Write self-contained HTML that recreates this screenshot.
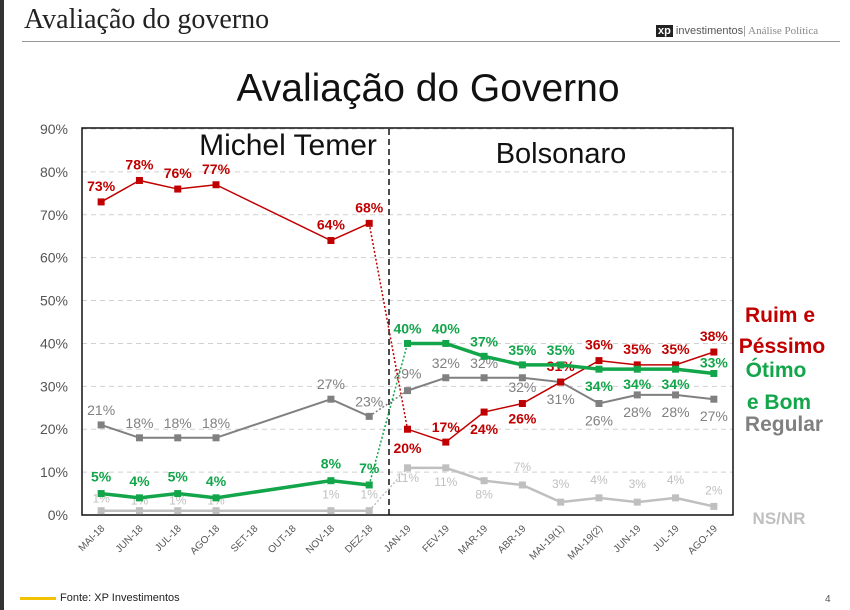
<!DOCTYPE html>
<html><head><meta charset="utf-8"><style>
body{margin:0;width:850px;height:610px;background:#fff;overflow:hidden;position:relative;font-family:"Liberation Sans",sans-serif}
.hd{position:absolute;left:24px;top:4px;font-family:"Liberation Serif",serif;font-size:28px;color:#222}
</style></head><body>
<div style="position:absolute;left:0;top:0;width:4px;height:610px;background:#333"></div>
<div class="hd">Avaliação do governo</div>
<div style="position:absolute;left:22px;top:41px;width:818px;height:1px;background:#999"></div>
<div style="position:absolute;left:656px;top:25px;font-size:11px;color:#555"><span style="background:#222;color:#fff;font-weight:bold;padding:0 2px">xp</span> investimentos<span style="color:#999">|</span><span style="font-family:'Liberation Serif',serif;color:#888"> Análise Política</span></div>
<svg id="c" width="850" height="610" style="position:absolute;left:0;top:0"></svg>
<div style="position:absolute;left:20px;top:597px;width:36px;height:3px;background:#f2c200"></div>
<div style="position:absolute;left:60px;top:592px;font-size:11px;color:#222">Fonte: XP Investimentos</div>
<div style="position:absolute;left:825px;top:594px;font-size:10px;color:#555">4</div>
<script>
const categories=["MAI-18","JUN-18","JUL-18","AGO-18","SET-18","OUT-18","NOV-18","DEZ-18","JAN-19","FEV-19","MAR-19","ABR-19","MAI-19(1)","MAI-19(2)","JUN-19","JUL-19","AGO-19"];
const ruim=[73,78,76,77,null,null,64,68,20,17,24,26,31,36,35,35,38];
const otimo=[5,4,5,4,null,null,8,7,40,40,37,35,35,34,34,34,33];
const regular=[21,18,18,18,null,null,27,23,29,32,32,32,31,26,28,28,27];
const nsnr=[1,1,1,1,null,null,1,1,11,11,8,7,3,4,3,4,2];
const yTicks=[0,10,20,30,40,50,60,70,80,90];
const NS="http://www.w3.org/2000/svg",svg=document.getElementById('c');
const L=82,R=733,T=129,B=515,bw=(R-L)/categories.length;
const x=i=>L+bw*(i+0.5), y=v=>B-(B-T)*v/90;
function el(t,a,p){const e=document.createElementNS(NS,t);for(const k in a)e.setAttribute(k,a[k]);(p||svg).appendChild(e);return e;}
function tx(s,a){const e=el('text',a);e.textContent=s;return e;}
for(let k=0;k<yTicks.length;k++){const v=yTicks[k];
 if(v>0){const g=el('line',{x1:L,x2:R,y1:y(v),y2:y(v),stroke:'#d0d0d0','stroke-dasharray':'5,4'});}
 const t=tx(v+'%',{x:L-14,y:y(v)+5,'text-anchor':'end','font-size':14,fill:'#555'});}
const fr=el('rect',{x:L,y:T-1,width:R-L,height:B-T+1,fill:'none',stroke:'#111','stroke-width':1.5});

categories.forEach((c,i)=>{const t=tx(c,{x:x(i)+4,y:B+14,'text-anchor':'end','font-size':10,fill:'#555',transform:`rotate(-45 ${x(i)+4} ${B+14})`});
 });
const dv=el('line',{x1:389,x2:389,y1:T,y2:B,stroke:'#111','stroke-width':1.5,'stroke-dasharray':'6,4'});

let t1=tx('Michel Temer',{x:288,y:155,'text-anchor':'middle','font-size':30,fill:'#111'});
let t2=tx('Bolsonaro',{x:561,y:163,'text-anchor':'middle','font-size':29,fill:'#111'});
let tt=tx('Avaliação do Governo',{x:428,y:101,'text-anchor':'middle','font-size':39,fill:'#111'});
// label offsets (px), per point
const offRuim=[-11,-11,-11,-11,0,0,-11,-11,24,-10,22,20,-11,-11,-11,-11,-11];
const offOt=[-12,-12,-12,-12,0,0,-12,-12,-10,-10,-10,-10,-10,22,20,20,-6];
const offReg=[-10,-10,-10,-10,0,0,-10,-10,-12,-10,-10,14,22,22,22,22,22];
const offNs=[-8,-6,-6,-6,0,0,-12,-12,14,18,18,-14,-14,-14,-14,-14,-12];
const series=[
 {d:nsnr,c:'#bfbfbf',w:2.5,o:offNs,n:'nsnr',fs:12,fw:'normal'},
 {d:regular,c:'#808080',w:2,o:offReg,n:'regular',fs:14,fw:'normal'},
 {d:ruim,c:'#c00000',w:1.5,o:offRuim,n:'ruim',fs:14,fw:'bold'},
 {d:otimo,c:'#12a54a',w:3.5,o:offOt,n:'otimo',fs:14,fw:'bold'}];
series.forEach(s=>{
 const seg=(a,b)=>{const pts=[];for(let i=a;i<=b;i++){if(s.d[i]!=null)pts.push(`${x(i)},${y(s.d[i])}`);}return pts.join(' ');};
 let p=el('polyline',{points:seg(0,7),fill:'none',stroke:s.c,'stroke-width':s.w});
 p=el('polyline',{points:seg(8,16),fill:'none',stroke:s.c,'stroke-width':s.w});
 p=el('line',{x1:x(7),y1:y(s.d[7]),x2:x(8),y2:y(s.d[8]),stroke:s.c,'stroke-width':1.5,'stroke-dasharray':'2,2'});
 s.d.forEach((v,i)=>{if(v==null)return;
  const m=el('rect',{x:x(i)-3.5,y:y(v)-3.5,width:7,height:7,fill:s.c});
  const lb=tx(v+'%',{x:x(i),y:y(v)+s.o[i],'text-anchor':'middle','font-size':s.fs,'font-weight':s.fw,fill:s.c});});
});
const leg=[['Ruim e',780,322,'#c00000','ruim'],['Péssimo',782,353,'#c00000','ruim'],['Ótimo',776,377,'#12a54a','otimo'],['e Bom',779,409,'#12a54a','otimo'],['Regular',784,431,'#808080','regular'],['NS/NR',779,524,'#bfbfbf','nsnr']];
leg.forEach(l=>{const t=tx(l[0],{x:l[1],y:l[2],'text-anchor':'middle','font-size':l[0]=='NS/NR'?17:21,'font-weight':'bold',fill:l[3]});});
</script>
</body></html>
